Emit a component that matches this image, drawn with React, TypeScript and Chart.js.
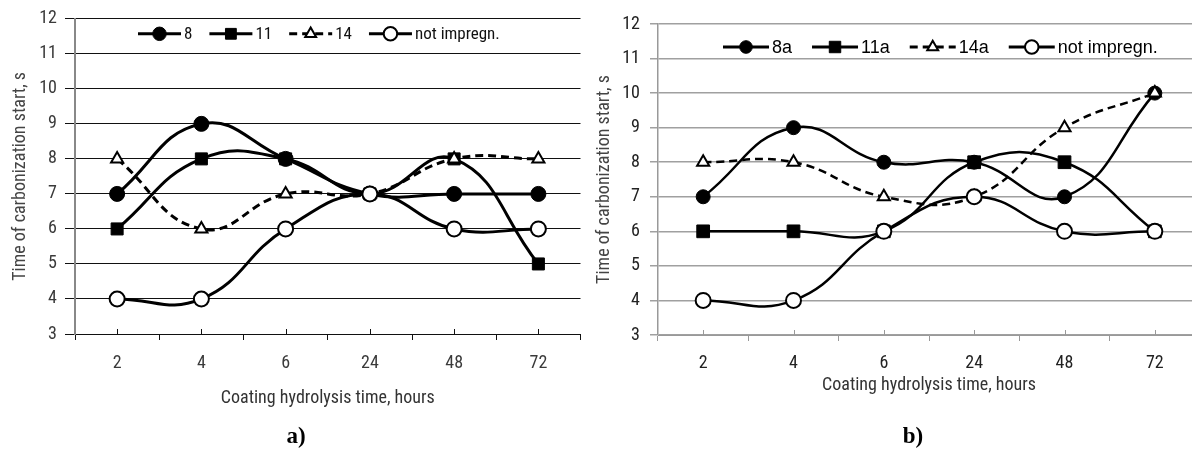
import React, { useEffect, useRef } from 'react';
import { Chart, registerables, PointElement } from 'chart.js';

Chart.register(...registerables);

// ---------- data ----------
const categories = ['2', '4', '6', '24', '48', '72'];
const yMin = 3;
const yMax = 12;
const yStep = 1;
const xTitle = 'Coating hydrolysis time, hours';
const yTitle = 'Time of carbonization start, s';

const labelsA = ['8', '11', '14', 'not impregn.'];
const a8 = [7, 9, 8, 7, 7, 7];
const a11 = [6, 8, 8, 7, 8, 5];
const a14 = [8, 6, 7, 7, 8, 8];
const aNot = [4, 4, 6, 7, 6, 6];

const labelsB = ['8a', '11a', '14a', 'not impregn.'];
const b8 = [7, 9, 8, 8, 7, 10];
const b11 = [6, 6, 6, 8, 8, 6];
const b14 = [8, 8, 7, 7, 9, 10];
const bNot = [4, 4, 6, 7, 6, 6];

const panelLabels = ['a)', 'b)'];

// ---------- styles ----------
const NARROW = "'Liberation Sans Narrow', 'Arial Narrow', 'Nimbus Sans Narrow', 'Roboto Condensed', sans-serif";
const REGULAR = "'Liberation Sans', Arial, sans-serif";

type Marker = { style: string; fill: string; radius: number; bw: number; dash: number[]; order: number };

const markersA: Marker[] = [
  { style: 'circle', fill: '#000', radius: 7.5, bw: 1, dash: [], order: 2 },
  { style: 'rect', fill: '#000', radius: 8.5, bw: 1, dash: [], order: 3 },
  { style: 'triangle', fill: '#fff', radius: 7, bw: 2, dash: [8, 5], order: 1 },
  { style: 'circle', fill: '#fff', radius: 7.5, bw: 2, dash: [], order: 0 },
];
const markersB: Marker[] = [
  { style: 'circle', fill: '#000', radius: 7, bw: 1, dash: [], order: 2 },
  { style: 'rect', fill: '#000', radius: 9, bw: 1, dash: [], order: 3 },
  { style: 'triangle', fill: '#fff', radius: 7, bw: 2, dash: [8, 5], order: 1 },
  { style: 'circle', fill: '#fff', radius: 7.5, bw: 2, dash: [], order: 0 },
];

const insideLegend = {
  id: 'insideLegend',
  afterDraw(chart: any, _args: any, opts: any) {
    const { ctx, chartArea } = chart;
    ctx.save();
    ctx.font = opts.font;
    let x = chartArea.left + opts.offsetX;
    const y = chartArea.top + opts.offsetY;
    const dsList = chart.data.datasets;
    dsList.forEach((ds: any) => {
      ctx.save();
      ctx.strokeStyle = ds.borderColor;
      ctx.lineWidth = opts.lineWidth;
      ctx.setLineDash(ds.borderDash || []);
      ctx.beginPath();
      ctx.moveTo(x, y);
      ctx.lineTo(x + opts.sampleLen, y);
      ctx.stroke();
      ctx.restore();
      ctx.save();
      ctx.setLineDash([]);
      const pt: any = new PointElement({} as any);
      pt.x = x + opts.sampleLen / 2;
      pt.y = y;
      pt.options = {
        pointStyle: ds.pointStyle,
        radius: ds.pointRadius * opts.markerScale,
        backgroundColor: ds.pointBackgroundColor,
        borderColor: ds.pointBorderColor,
        borderWidth: ds.pointBorderWidth,
        rotation: 0,
      };
      pt.draw(ctx, chartArea);
      ctx.restore();
      x += opts.sampleLen + opts.textGap;
      ctx.fillStyle = opts.color;
      ctx.textBaseline = 'middle';
      ctx.textAlign = 'left';
      ctx.fillText(ds.label, x, y + 1);
      x += ctx.measureText(ds.label).width + opts.itemGap;
    });
    ctx.restore();
  },
};

const centerTicks = {
  id: 'centerTicks',
  beforeDatasetsDraw(chart: any, _args: any, opts: any) {
    const xs = chart.scales.x;
    const { ctx, chartArea } = chart;
    ctx.save();
    ctx.strokeStyle = opts.color;
    ctx.lineWidth = opts.width;
    xs.ticks.forEach((_t: any, i: number) => {
      const px = Math.round(xs.getPixelForValue(i)) + 0.5;
      ctx.beginPath();
      ctx.moveTo(px, chartArea.bottom);
      ctx.lineTo(px, chartArea.bottom - opts.len);
      ctx.stroke();
    });
    ctx.restore();
  },
};

type Panel = {
  left: number;
  width: number;
  height: number;
  labels: string[];
  series: number[][];
  markers: Marker[];
  lineWidth: number;
  padTop: number;
  padRight: number;
  yWidth: number;
  xHeight: number;
  gridColor: string;
  gridWidth: number;
  yBorderColor: string;
  yBorderWidth: number;
  xBorderColor: string;
  tickColor: string;
  yTickLen: number;
  yTickPad: number;
  yTitlePad: number;
  xTitlePad: number;
  xTickPad: number;
  legend: any;
};

const panels: Panel[] = [
  {
    left: 0, width: 590, height: 440,
    labels: labelsA, series: [a8, a11, a14, aNot], markers: markersA, lineWidth: 3,
    padTop: 18, padRight: 5, yWidth: 75, xHeight: 106,
    gridColor: '#111', gridWidth: 1, yBorderColor: '#888', yBorderWidth: 2, xBorderColor: '#111',
    tickColor: '#3a3a3a', yTickLen: 10, yTickPad: 8, yTitlePad: 9.5, xTitlePad: 31, xTickPad: 13,
    legend: { font: `17px ${NARROW}`, offsetX: 63, offsetY: 15, sampleLen: 43, textGap: 3, itemGap: 17, lineWidth: 3, markerScale: 0.9, color: '#111' },
  },
  {
    left: 590, width: 620, height: 440,
    labels: labelsB, series: [b8, b11, b14, bNot], markers: markersB, lineWidth: 2.5,
    padTop: 24, padRight: 6, yWidth: 68, xHeight: 105,
    gridColor: '#a0a0a0', gridWidth: 1.5, yBorderColor: '#999', yBorderWidth: 1.5, xBorderColor: '#999',
    tickColor: '#222', yTickLen: 8, yTickPad: 10, yTitlePad: 3.5, xTitlePad: 44, xTickPad: 12,
    legend: { font: `18px ${REGULAR}`, offsetX: 65, offsetY: 23, sampleLen: 46, textGap: 3, itemGap: 20, lineWidth: 3, markerScale: 0.9, color: '#000' },
  },
];

function buildConfig(p: Panel): any {
  const datasets = p.series.map((vals, i) => {
    const m = p.markers[i];
    return {
      label: p.labels[i],
      data: vals,
      borderColor: '#000',
      borderWidth: p.lineWidth,
      borderDash: m.dash,
      tension: 0.45,
      fill: false,
      order: m.order,
      pointStyle: m.style,
      pointRadius: m.radius,
      pointBackgroundColor: m.fill,
      pointBorderColor: '#000',
      pointBorderWidth: m.bw,
      clip: false,
    };
  });
  return {
    type: 'line',
    data: { labels: categories, datasets },
    plugins: [centerTicks, insideLegend],
    options: {
      animation: false,
      responsive: false,
      devicePixelRatio: 1,
      layout: { padding: { top: p.padTop, right: p.padRight, left: 0, bottom: 0 } },
      plugins: {
        legend: { display: false },
        tooltip: { enabled: false },
        centerTicks: { color: p.xBorderColor, width: 1, len: 5 },
        insideLegend: p.legend,
      },
      scales: {
        x: {
          type: 'category',
          offset: true,
          afterFit: (s: any) => { s.height = p.xHeight; },
          grid: { display: true, drawOnChartArea: false, drawTicks: true, tickLength: 6, offset: true, color: p.xBorderColor, lineWidth: 1 },
          border: { display: true, color: p.xBorderColor, width: 1 },
          ticks: { color: p.tickColor, font: { family: NARROW, size: 18 }, padding: p.xTickPad, maxRotation: 0, autoSkip: false },
          title: { display: true, text: xTitle, color: '#333', font: { family: NARROW, size: 18 }, padding: { top: 0, bottom: p.xTitlePad } },
        },
        y: {
          min: yMin,
          max: yMax,
          afterFit: (s: any) => { s.width = p.yWidth; },
          grid: { color: p.gridColor, lineWidth: p.gridWidth, drawTicks: true, tickLength: p.yTickLen },
          border: { display: true, color: p.yBorderColor, width: p.yBorderWidth },
          ticks: { stepSize: yStep, color: p.tickColor, font: { family: NARROW, size: 18 }, padding: p.yTickPad },
          title: { display: true, text: yTitle, color: '#444', font: { family: NARROW, size: 18 }, padding: { top: p.yTitlePad, bottom: 0 } },
        },
      },
    },
  };
}

function ChartPanel({ p }: { p: Panel }) {
  const ref = useRef<HTMLCanvasElement | null>(null);
  useEffect(() => {
    if (!ref.current) return;
    const chart = new Chart(ref.current, buildConfig(p));
    return () => chart.destroy();
  }, [p]);
  return (
    <canvas
      ref={ref}
      width={p.width}
      height={p.height}
      style={{ position: 'absolute', left: p.left, top: 0, width: p.width, height: p.height }}
    />
  );
}

const captionStyle = (cx: number): React.CSSProperties => ({
  position: 'absolute',
  left: cx - 30,
  width: 60,
  top: 422,
  textAlign: 'center',
  fontFamily: "'Liberation Serif', 'Times New Roman', serif",
  fontWeight: 'bold',
  fontSize: 23,
  lineHeight: '28px',
  color: '#000',
});

export default function App() {
  return (
    <div style={{ position: 'fixed', left: 0, top: 0, width: 1192, height: 465, overflow: 'hidden', background: '#fff' }}>
      {panels.map((p, i) => <ChartPanel key={i} p={p} />)}
      <div style={captionStyle(296)}>{panelLabels[0]}</div>
      <div style={captionStyle(913)}>{panelLabels[1]}</div>
    </div>
  );
}
